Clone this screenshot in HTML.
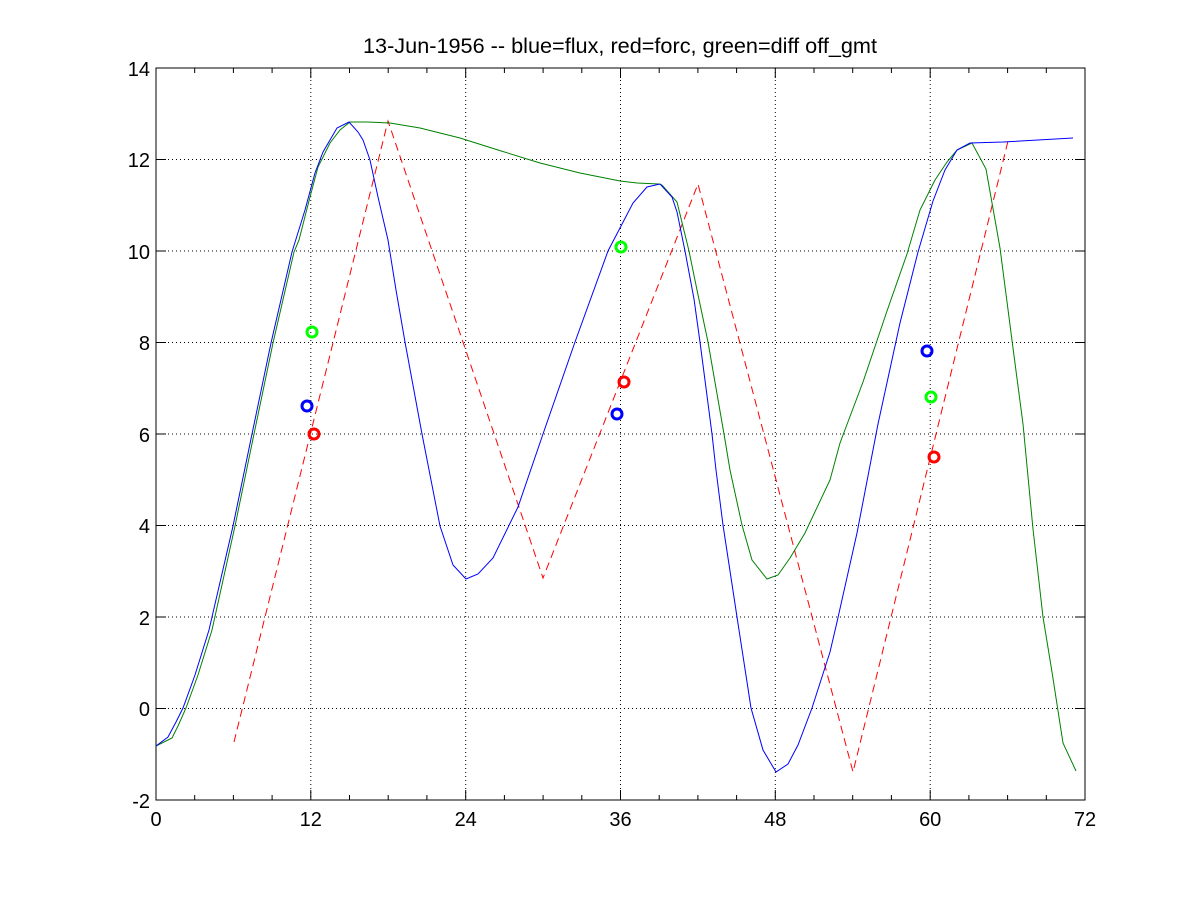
<!DOCTYPE html>
<html><head><style>body{margin:0;background:#fff}svg{display:block}</style></head><body>
<svg width="1200" height="900" xmlns="http://www.w3.org/2000/svg" font-family="Liberation Sans, sans-serif">
<rect width="1200" height="900" fill="#fff"/>
<g stroke="#000" stroke-width="1" stroke-dasharray="1,3">
<line x1="310.8" y1="68" x2="310.8" y2="800"/><line x1="465.7" y1="68" x2="465.7" y2="800"/><line x1="620.5" y1="68" x2="620.5" y2="800"/><line x1="775.3" y1="68" x2="775.3" y2="800"/><line x1="930.2" y1="68" x2="930.2" y2="800"/>
<line x1="156" y1="708.5" x2="1085" y2="708.5"/><line x1="156" y1="617" x2="1085" y2="617"/><line x1="156" y1="525.5" x2="1085" y2="525.5"/><line x1="156" y1="434" x2="1085" y2="434"/><line x1="156" y1="342.5" x2="1085" y2="342.5"/><line x1="156" y1="251" x2="1085" y2="251"/><line x1="156" y1="159.5" x2="1085" y2="159.5"/>
</g>
<rect x="156" y="68" width="929" height="732" fill="none" stroke="#000"/>
<g stroke="#000">
<path d="M310.8 800v-10M465.7 800v-10M620.5 800v-10M775.3 800v-10M930.2 800v-10M310.8 68v10M465.7 68v10M620.5 68v10M775.3 68v10M930.2 68v10M156 708.5h10M156 617h10M156 525.5h10M156 434h10M156 342.5h10M156 251h10M156 159.5h10M1085 708.5h-10M1085 617h-10M1085 525.5h-10M1085 434h-10M1085 342.5h-10M1085 251h-10M1085 159.5h-10"/>
<path d="M194.7 800v-5M233.4 800v-5M272.1 800v-5M349.5 800v-5M388.2 800v-5M426.9 800v-5M504.4 800v-5M543.1 800v-5M581.8 800v-5M659.2 800v-5M697.9 800v-5M736.6 800v-5M814 800v-5M852.7 800v-5M891.4 800v-5M968.9 800v-5M1007.6 800v-5M1046.3 800v-5M194.7 68v5M233.4 68v5M272.1 68v5M349.5 68v5M388.2 68v5M426.9 68v5M504.4 68v5M543.1 68v5M581.8 68v5M659.2 68v5M697.9 68v5M736.6 68v5M814 68v5M852.7 68v5M891.4 68v5M968.9 68v5M1007.6 68v5M1046.3 68v5"/>
</g>
<g font-size="20" text-anchor="middle">
<text x="156" y="826">0</text><text x="310.8" y="826">12</text><text x="465.7" y="826">24</text><text x="620.5" y="826">36</text><text x="775.3" y="826">48</text><text x="930.2" y="826">60</text><text x="1085" y="826">72</text>
</g>
<g font-size="20" text-anchor="end">
<text x="150" y="808">-2</text><text x="150" y="716">0</text><text x="150" y="625">2</text><text x="150" y="533">4</text><text x="150" y="442">6</text><text x="150" y="350">8</text><text x="150" y="259">10</text><text x="150" y="167">12</text><text x="150" y="76">14</text>
</g>
<text x="363" y="53" font-size="21" textLength="514" lengthAdjust="spacingAndGlyphs">13-Jun-1956 -- blue=flux, red=forc, green=diff off_gmt</text>
<polyline fill="none" stroke="#f00" stroke-dasharray="8,5" points="234,742 388,121 543,578 698,184 853,772 1008,141"/>
<polyline fill="none" stroke="#008000" points="156,746 172,738 178,726 186,708 198,675 212,630 235,526 254,434 273,343 294,252 299,240 310,197 318,167 330,143 340,130 350,122 367,122 390,123 420,128 460,138 498,150 540,163 580,173 620,181 637,183 659,184 662,185 677,202 689,251 697,290 708,342 724,434 730,470 742,525 752,560 767,579 778,575 790,558 805,533 830,480 840,443 863,382 887,311 907,254 920,210 935,180 947,162 957,150 972,143 986,169 1000,248 1013,348 1023,424 1033,529 1043,617 1052,672 1063,743 1076,771"/>
<polyline fill="none" stroke="#0000ff" points="156,746 168,737 176,722 183,708 195,675 209,630 233,526 252,434 271,343 292,252 305,210 315,173 323,152 337,128 349,122 358,132 363,140 370,160 378,197 388,240 396,290 405,342 422,434 440,526 453,565 466,579 478,574 493,558 518,507 543,434 575,342 608,251 633,203 647,187 660,184 672,197 677,212 685,251 694,299 700,342 712,434 716,470 723,525 737,617 751,708 763,750 776,772 788,764 798,745 812,708 830,652 837,622 857,533 878,424 900,323 918,252 933,201 945,170 957,150 970,143 1003,142 1073,138"/>
<g fill="none" stroke-width="3">
<circle cx="312" cy="332" r="5" stroke="#0f0"/><circle cx="621" cy="247" r="5" stroke="#0f0"/><circle cx="931" cy="397" r="5" stroke="#0f0"/>
<circle cx="307" cy="406" r="5" stroke="#00f"/><circle cx="617" cy="414" r="5" stroke="#00f"/><circle cx="927" cy="351" r="5" stroke="#00f"/>
<circle cx="314" cy="434" r="5" stroke="#f00"/><circle cx="624" cy="382" r="5" stroke="#f00"/><circle cx="934" cy="457" r="5" stroke="#f00"/>
</g>
</svg>
</body></html>
